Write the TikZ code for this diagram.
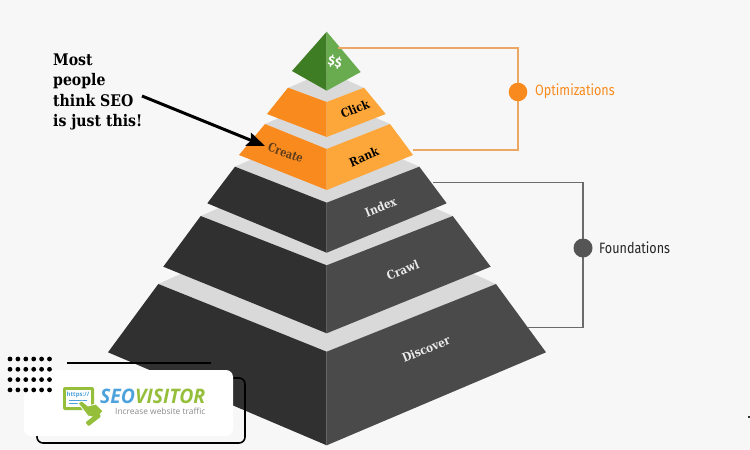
\documentclass[tikz,border=0pt]{standalone}
\usepackage{fontspec}
\setmainfont{DejaVu Serif}
\newfontfamily\condfont{Fira Sans}
\newfontfamily\logofont{Open Sans}
\usetikzlibrary{arrows.meta}
\definecolor{bgc}{HTML}{F7F7F7}
\definecolor{bandc}{HTML}{D9D9D9}
\definecolor{orl}{HTML}{F98B1E}
\definecolor{orr}{HTML}{FDA63A}
\definecolor{dkl}{HTML}{303030}
\definecolor{dkr}{HTML}{4A4A4A}
\definecolor{grl}{HTML}{3E7D23}
\definecolor{grr}{HTML}{69AB4F}
\definecolor{orline}{HTML}{EBA763}
\definecolor{grline}{HTML}{6B6B6B}
\definecolor{dotc}{HTML}{555555}
\definecolor{seoblue}{HTML}{4FA3DC}
\definecolor{seogreen}{HTML}{95BF3B}
\definecolor{createc}{HTML}{5E3D1C}
\tikzset{
  band/.style={fill=bandc,draw=none},
  tierlabel/.style={font=\bfseries\fontsize{12}{12}\selectfont,inner sep=0pt},
  sidelabel/.style={font=\condfont\fontsize{15}{15}\selectfont,anchor=west,inner sep=0pt,xscale=0.84},
  leftnote/.style={font=\bfseries\fontsize{16}{20.5}\selectfont,align=left,anchor=north west,inner sep=0pt,xscale=.88}
}
\begin{document}
\begin{tikzpicture}[x=1pt,y=-1pt]
\useasboundingbox (0,0) rectangle (750,450);
\fill[bgc] (0,0) rectangle (750,450);
% bottom tier
\fill[band] (158.3,284) -- (326.7,208) -- (496,284) -- (326.7,352) -- cycle;
\fill[dkl] (158.3,284) -- (326.7,351.7) -- (326.7,445.3) -- (108,352.3) -- cycle;
\fill[dkr] (496,284) -- (326.7,351.7) -- (326.7,445.3) -- (546,352.3) -- cycle;
% crawl
\fill[band] (200.7,216) -- (326.7,160) -- (452.7,216) -- (326.7,266) -- cycle;
\fill[dkl] (200.7,216) -- (326.7,265.3) -- (326.7,333.3) -- (163.3,266.7) -- cycle;
\fill[dkr] (452.7,216) -- (326.7,265.3) -- (326.7,333.3) -- (490.7,266.7) -- cycle;
% index
\fill[band] (235,166.7) -- (326.7,126) -- (419.3,166.7) -- (326.7,203) -- cycle;
\fill[dkl] (235,166.7) -- (326.7,202.7) -- (326.7,252.7) -- (207.3,203.3) -- cycle;
\fill[dkr] (419.3,166.7) -- (326.7,202.7) -- (326.7,252.7) -- (446.7,203.3) -- cycle;
% rank/create
\fill[band] (265,124) -- (326.7,97) -- (390,124) -- (326.7,149) -- cycle;
\fill[orl] (265,124) -- (326.7,149) -- (326.7,190) -- (239,155) -- cycle;
\fill[orr] (390,124) -- (326.7,149) -- (326.7,190) -- (413,155) -- cycle;
% click
\fill[band] (288,88) -- (326.7,71) -- (364,88) -- (326.7,102) -- cycle;
\fill[orl] (288,87.7) -- (326.7,102) -- (326.7,137) -- (267,114) -- cycle;
\fill[orr] (364,87.7) -- (326.7,102) -- (326.7,137) -- (385.7,114) -- cycle;
% apex
\fill[grl] (326.7,31.7) -- (326.7,90.7) -- (292,71) -- cycle;
\fill[grr] (326.7,31.7) -- (326.7,90.7) -- (360.7,72) -- cycle;
% connectors
\coordinate (o1) at (338,48); \coordinate (o2) at (518,48);
\coordinate (o3) at (518,150); \coordinate (o4) at (412.7,150);
\draw[orline,line width=1.2pt] (o1) -- (o2) -- (o3) -- (o4);
\coordinate (g1) at (433,182.7); \coordinate (g2) at (583,182.7);
\coordinate (g3) at (583,327.3); \coordinate (g4) at (528,327.3);
\draw[grline,line width=1.2pt] (g1) -- (g2) -- (g3) -- (g4);
\node[circle,fill=orl,minimum size=18.6pt,inner sep=0pt] (optdot) at (518,92) {};
\node[circle,fill=dotc,minimum size=19pt,inner sep=0pt] (fnddot) at (583,248) {};
\node[sidelabel,text=orl] (opt) at (535,91.5) {Optimizations};
\node[sidelabel,text=black!85] (fnd) at (599,247.5) {Foundations};
% labels
\node[font=\condfont\bfseries\fontsize{12.5}{12.5}\selectfont,text=white,rotate=-12,inner sep=0pt] (dd) at (335,62) {\$\$};
\node[tierlabel,rotate=23,xscale=.87,text=black] (click) at (355,109) {Click};
\node[tierlabel,rotate=23,xscale=.87,text=black] (rank) at (364,157) {Rank};
\node[tierlabel,rotate=-20,xscale=.82,text=createc] (create) at (285.7,152.7) {Create};
\node[tierlabel,rotate=22,xscale=.87,text=white!92!black] (index) at (380.7,207) {Index};
\node[tierlabel,rotate=22,xscale=.87,text=white!92!black] (crawl) at (402.7,270) {Crawl};
\node[tierlabel,rotate=22,xscale=.87,text=white!92!black] (disc) at (426,349) {Discover};
% note
\node[leftnote] (note) at (53,53.5) {Most\\people\\think SEO\\is just this!};
\coordinate (ns) at (142,96); \coordinate (nt) at (265,146);
\draw[line width=3pt,-{Stealth[length=18pt,width=14pt,inset=3pt]}] (ns) -- (nt);
% logo frame
\draw[black,line width=1.6pt,rounded corners=6pt] (37,430) -- (37,443) -- (245,443) -- (245,378) -- (225,378);
\draw[black,line width=2pt] (67,363) -- (211,363);
\fill[white,rounded corners=7pt] (24,370) rectangle (233,436);
\foreach \i in {0,...,5}{\foreach \j in {0,...,3}{
  \fill[black] (10+7.9*\i,359+10.3*\j) circle (2.4);
}}
% logo icon
\fill[seogreen,rounded corners=2pt] (63,387) rectangle (94,410);
\fill[white] (66,390) rectangle (91,407);
\node[font=\logofont\bfseries\fontsize{6}{6}\selectfont,text=seoblue,inner sep=0pt] (https) at (78,395) {https://};
\draw[seoblue,line width=.8pt] (69,400) -- (87,400) (69,403) -- (79,403);
\fill[seogreen,draw=white,line width=.8pt,line join=round] (78,403) -- (82,401) -- (88,406) -- (96,404) -- (103,411) -- (97,418) -- (88,416) -- cycle;
\fill[seogreen,rotate around={38:(93,419)},rounded corners=1pt] (85,417) rectangle (101,422);
\node[font=\logofont\bfseries\itshape\fontsize{20}{20}\selectfont,anchor=west,inner sep=0pt,xscale=.97] (logo) at (100,396) {\textcolor{seoblue}{SEO}\textcolor{seogreen}{VISITOR}};
\node[font=\logofont\fontsize{8.4}{8.4}\selectfont,text=black!45,anchor=west,inner sep=0pt] (tag) at (115,411) {Increase website traffic};
\fill[black!80] (748,415.5) rectangle (750,418);
\end{tikzpicture}
\end{document}
